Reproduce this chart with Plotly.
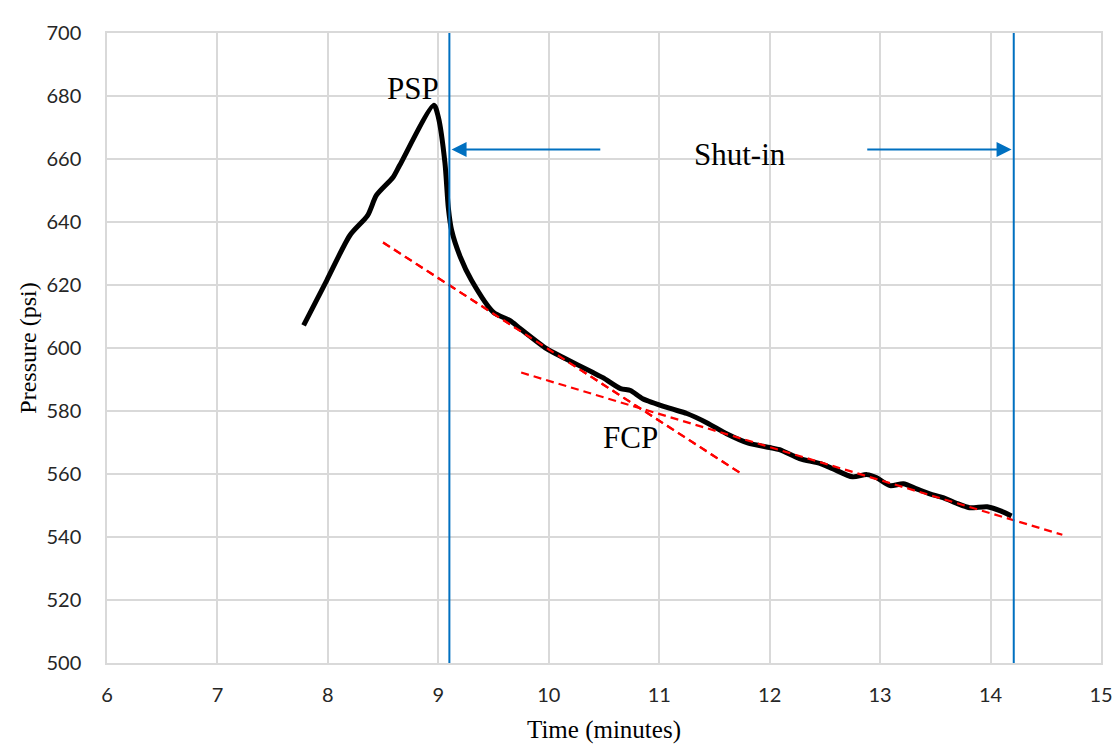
import plotly.graph_objects as go

# measured pressure curve
time_min = [7.78, 7.99, 8.20, 8.36, 8.44, 8.59, 8.65, 8.96, 9.00, 9.06, 9.09, 9.12,
            9.20, 9.30, 9.50, 9.65, 9.74, 9.98, 10.13, 10.40, 10.49, 10.65, 10.74,
            10.85, 11.10, 11.25, 11.43, 11.61, 11.80, 12.00, 12.09, 12.27, 12.46,
            12.57, 12.75, 12.88, 12.97, 13.09, 13.21, 13.33, 13.45, 13.57, 13.70,
            13.81, 13.97, 14.09, 14.19]
pressure = [607.2, 621.5, 635.8, 642.1, 648.5, 654.2, 658.0, 677.1, 673.3, 658.7,
            644.7, 637.4, 628.8, 621.5, 611.3, 608.7, 606.2, 599.8, 597.0, 592.2,
            590.6, 587.1, 586.5, 583.9, 580.8, 579.2, 576.3, 572.8, 569.9, 568.4,
            567.7, 564.9, 563.3, 561.7, 559.1, 559.8, 558.8, 556.3, 556.9, 555.3,
            553.7, 552.5, 550.6, 549.3, 549.6, 548.3, 546.7]

# tangent lines (red dashed)
fit1_t = [8.50, 11.73]
fit1_p = [633.5, 560.4]
fit2_t = [9.75, 14.65]
fit2_p = [592.2, 540.7]

shut_in_start = 9.10
shut_in_end = 14.21

BLUE = "#0070C0"
GRID = "#d9d9d9"
DASH = dict(color="#ff0000", width=2.2, dash="8px,5px")

fig = go.Figure()

fig.add_trace(go.Scatter(x=fit1_t, y=fit1_p, mode="lines", line=DASH))
fig.add_trace(go.Scatter(x=time_min, y=pressure, mode="lines",
                         line=dict(color="black", width=5, shape="spline", smoothing=0.7)))
# dashes drawn over the curve, as in the original
fig.add_trace(go.Scatter(x=fit1_t, y=fit1_p, mode="lines", line=DASH))
fig.add_trace(go.Scatter(x=fit2_t, y=fit2_p, mode="lines", line=DASH))

for xv in [shut_in_start, shut_in_end]:
    fig.add_shape(type="line", x0=xv, x1=xv, y0=500, y1=700, xref="x", yref="y",
                  line=dict(color=BLUE, width=2))

# outer chart border
fig.add_shape(type="rect", xref="paper", yref="paper", x0=-0.1006, x1=1.05, y0=-0.2, y1=1.043,
              line=dict(color=GRID, width=1.5), layer="below")

serif = "Liberation Serif, Times New Roman, serif"
fig.add_annotation(x=shut_in_start + 0.02, y=663, ax=10.48, ay=663, xref="x", yref="y",
                   axref="x", ayref="y", text="", showarrow=True, arrowhead=2,
                   arrowsize=1.5, arrowwidth=2, arrowcolor=BLUE)
fig.add_annotation(x=shut_in_end - 0.02, y=663, ax=12.87, ay=663, xref="x", yref="y",
                   axref="x", ayref="y", text="", showarrow=True, arrowhead=2,
                   arrowsize=1.5, arrowwidth=2, arrowcolor=BLUE)
fig.add_annotation(x=11.73, y=661.5, text="Shut-in", showarrow=False,
                   font=dict(family=serif, size=31, color="black"))
fig.add_annotation(x=8.77, y=682.5, text="PSP", showarrow=False,
                   font=dict(family=serif, size=31, color="black"))
fig.add_annotation(x=10.74, y=571.5, text="FCP", showarrow=False,
                   font=dict(family=serif, size=31, color="black"))

tick_font = dict(family="Lato, Open Sans, sans-serif", size=20, color="#262626")

fig.update_layout(
    width=1112, height=736,
    margin=dict(l=99, r=19, t=25, b=81),
    paper_bgcolor="white", plot_bgcolor="white",
    showlegend=False,
)
fig.update_xaxes(
    range=[6, 15], tick0=6, dtick=1, showgrid=True, gridcolor=GRID, gridwidth=1.5,
    showline=True, linecolor=GRID, linewidth=1.5, mirror=True, zeroline=False,
    ticks="outside", ticklen=13, tickcolor="rgba(0,0,0,0)", tickfont=tick_font,
    automargin=False,
    title=dict(text="Time (minutes)", font=dict(family=serif, size=25, color="black"), standoff=19),
)
fig.update_yaxes(
    range=[500, 700], tick0=500, dtick=20, showgrid=True, gridcolor=GRID, gridwidth=1.5,
    showline=True, linecolor=GRID, linewidth=1.5, mirror=True, zeroline=False,
    ticks="outside", ticklen=20, tickcolor="rgba(0,0,0,0)", tickfont=tick_font,
    automargin=False,
    title=dict(text="Pressure (psi)", font=dict(family=serif, size=24, color="black"), standoff=3),
)

fig.write_html("out.html")
